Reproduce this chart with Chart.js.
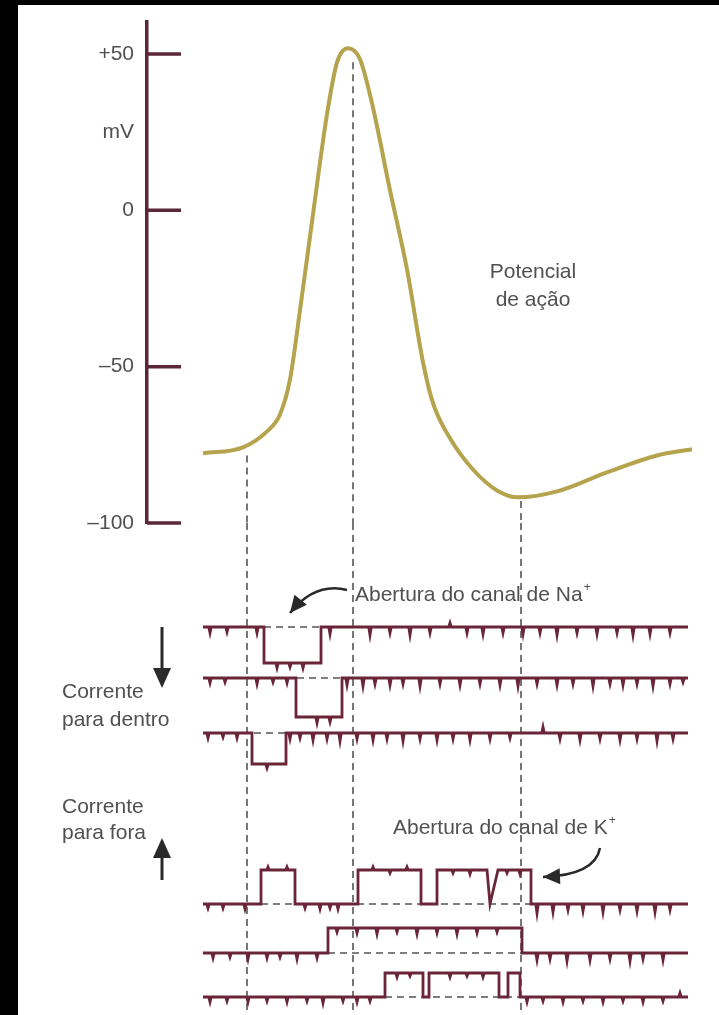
<!DOCTYPE html>
<html>
<head>
<meta charset="utf-8">
<script src="https://cdn.jsdelivr.net/npm/chart.js@4"></script>
<style>
  body { margin: 0; background: #000; }
  #wrap { position: absolute; left: 18px; top: 5px; width: 701px; height: 1010px; background: #fff; }
</style>
</head>
<body>
<div id="wrap"><canvas id="chart" width="701" height="1010"></canvas></div>
<script>
// ===== DATA =====
// tempo em ms (eixo x), potencial em mV
const apTime = [1.12, 1.92, 2.40, 2.66, 2.86, 3.06, 3.32, 3.60, 3.80, 4.02, 4.26, 4.50, 4.86, 5.20, 5.52, 5.72, 6.06, 6.52, 7.00, 7.42, 8.20, 9.20, 10.20, 10.90]
const apVoltage = [-77.7, -75.8, -70.7, -65.3, -54.1, -32.0, -1.3, 30.7, 47.3, 51.8, 48.3, 34.2, 6.4, -18.9, -48.6, -61.7, -72.9, -82.9, -89.6, -91.8, -89.9, -83.8, -78.4, -76.4]

const mvTicks = [50, 25, 0, -50, -100]
const mvLabelAt = 25 // onde fica o "mV"

// linhas tracejadas verticais
const markTime = [2.0, 4.12, 7.48]
const markFrom = [-78.4, 47.3, -93]

// registros de canal unico (corrente em pA)
const traceStart = 1.12
const traceEnd = 10.82

const naAmplitude = [-1.8, -1.95, -1.55]
const naOpenings = [
    [[2.34, 3.48]],
    [[2.98, 3.90]],
    [[2.10, 2.78]]
]
const naDash = [[2.34, 3.48], [2.52, 3.90], [1.90, 2.78]]
const naNoise = [
    [[1.26, -0.3], [1.60, -0.25], [2.20, -0.3], [2.60, -0.25], [2.86, -0.2], [3.12, -0.25], [3.66, -0.35], [4.46, -0.4], [4.86, -0.3], [5.26, -0.4], [5.66, -0.3], [6.06, 0.2], [6.40, -0.3], [6.72, -0.35], [7.12, -0.3], [7.52, -0.35], [7.86, -0.3], [8.20, -0.4], [8.60, -0.3], [9.00, -0.35], [9.40, -0.3], [9.72, -0.4], [10.06, -0.35], [10.46, -0.3]],
    [[1.26, -0.25], [1.56, -0.2], [2.20, -0.3], [2.52, -0.2], [2.80, -0.25], [3.40, -0.3], [3.66, -0.25], [4.00, -0.35], [4.32, -0.4], [4.56, -0.3], [4.86, -0.35], [5.12, -0.3], [5.46, -0.4], [5.86, -0.3], [6.26, -0.35], [6.66, -0.3], [7.06, -0.35], [7.42, -0.4], [7.80, -0.3], [8.20, -0.35], [8.52, -0.3], [8.92, -0.4], [9.26, -0.3], [9.52, -0.35], [9.80, -0.3], [10.12, -0.4], [10.46, -0.3], [10.72, -0.2]],
    [[1.22, -0.25], [1.52, -0.2], [1.80, -0.25], [2.40, -0.2], [2.86, -0.3], [3.06, -0.25], [3.32, -0.35], [3.60, -0.3], [3.86, -0.4], [4.20, -0.3], [4.52, -0.35], [4.80, -0.3], [5.12, -0.4], [5.46, -0.3], [5.80, -0.35], [6.12, -0.3], [6.46, -0.35], [6.86, -0.3], [7.26, -0.25], [7.92, 0.3], [8.26, -0.3], [8.66, -0.35], [9.06, -0.3], [9.46, -0.35], [9.80, -0.3], [10.20, -0.4], [10.52, -0.3]]
]

const kAmplitude = [1.7, 1.25, 1.2]
// [abre, fecha, rampa de abertura, rampa de fechamento]
const kOpenings = [
    [[2.28, 2.96], [4.22, 5.48], [5.80, 6.80, 0, 0.06], [6.86, 7.68, 0.16, 0]],
    [[3.62, 7.50]],
    [[4.76, 5.52], [5.64, 7.04], [7.22, 7.46]]
]
const kDash = [[2.28, 7.68], [3.62, 7.50], [4.76, 7.46]]
const kNoise = [
    [[1.22, -0.2], [1.52, -0.2], [1.96, -0.25], [2.42, 0.15], [2.80, 0.15], [3.16, -0.2], [3.46, -0.25], [3.66, -0.2], [3.82, -0.25], [4.52, 0.15], [4.86, -0.15], [5.20, 0.15], [6.12, -0.15], [6.46, -0.2], [7.20, -0.15], [7.46, -0.2], [7.80, -0.45], [8.12, -0.4], [8.42, -0.3], [8.72, -0.35], [9.12, -0.4], [9.46, -0.3], [9.80, -0.35], [10.16, -0.4], [10.46, -0.3]],
    [[1.32, -0.25], [1.66, -0.2], [2.02, -0.3], [2.40, -0.25], [2.66, -0.2], [3.00, -0.3], [3.40, -0.25], [3.80, -0.2], [4.20, -0.25], [4.60, -0.3], [5.00, -0.2], [5.40, -0.3], [5.80, -0.25], [6.20, -0.3], [6.60, -0.25], [7.00, -0.2], [7.80, -0.35], [8.06, -0.3], [8.40, -0.4], [8.86, -0.35], [9.26, -0.3], [9.66, -0.4], [9.92, -0.3], [10.32, -0.35]],
    [[1.26, -0.25], [1.60, -0.2], [2.02, -0.25], [2.40, -0.2], [2.80, -0.25], [3.20, -0.2], [3.52, -0.3], [3.92, -0.2], [4.20, -0.25], [4.46, -0.2], [5.00, -0.2], [5.26, -0.15], [6.06, -0.2], [6.40, -0.15], [6.72, -0.2], [7.60, -0.25], [7.92, -0.2], [8.32, -0.25], [8.72, -0.2], [9.12, -0.25], [9.52, -0.2], [9.92, -0.25], [10.32, -0.2], [10.66, 0.2]]
]

// ===== LAYOUT / ESTILO =====
const naBase = [-5.2, -7.75, -10.5]
const kBase = [-19.05, -21.5, -23.7]
const axisColor = "#5a2638"
const traceColor = "#6a2638"
const apColor = "#b5a34e"
const textColor = "#505050"
const font = '21px "Liberation Sans", Arial, sans-serif'


// FUNGSI MONTA REGISTRO
function buildTrace(openings, amp, noise, base) {
    const pts = [{ x: traceStart, y: base }]
    openings.forEach(([t0, t1, rin = 0, rout = 0]) => {
        pts.push({ x: t0, y: base }, { x: t0 + rin, y: base + amp }, { x: t1, y: base + amp }, { x: t1 + rout, y: base })
    })
    noise.forEach(([t, dy]) => {
        const nearEdge = openings.some(([t0, t1, rin = 0, rout = 0]) =>
            (t > t0 - 0.07 && t < t0 + rin + 0.07) || (t > t1 - 0.07 && t < t1 + rout + 0.07))
        if (nearEdge) return
        const open = openings.some(([t0, t1, rin = 0]) => t > t0 + rin && t < t1)
        const lvl = base + (open ? amp : 0)
        pts.push({ x: t - 0.025, y: lvl }, { x: t, y: lvl + dy }, { x: t + 0.025, y: lvl })
    })
    pts.push({ x: traceEnd, y: base })
    return pts.sort((a, b) => a.x - b.x)
}

const datasets = []

// potencial de acao
datasets.push({
    data: apTime.map((t, i) => ({ x: t, y: apVoltage[i] })),
    yAxisID: "y",
    borderColor: apColor,
    borderWidth: 4,
    cubicInterpolationMode: "monotone",
    pointRadius: 0,
    order: 1
})

// tracejadas verticais
markTime.forEach((t, i) => {
    datasets.push({
        data: [{ x: t, y: markFrom[i] }, { x: t, y: -100 }],
        yAxisID: "y", borderColor: "#555", borderWidth: 1.6, borderDash: [7, 5], pointRadius: 0, order: 3
    })
    datasets.push({
        data: [{ x: t, y: 0 }, { x: t, y: -24.6 }],
        yAxisID: "yc", borderColor: "#555", borderWidth: 1.6, borderDash: [7, 5], pointRadius: 0, order: 3
    })
})

// tracejadas horizontais + registros
function addTraces(openings, amps, noise, bases, dash) {
    openings.forEach((op, i) => {
        datasets.push({
            data: [{ x: dash[i][0], y: bases[i] }, { x: dash[i][1], y: bases[i] }],
            yAxisID: "yc", borderColor: "#555", borderWidth: 1.6, borderDash: [7, 5], pointRadius: 0, order: 2
        })
        datasets.push({
            data: buildTrace(op, amps[i], noise[i], bases[i]),
            yAxisID: "yc", borderColor: traceColor, borderWidth: 2.8, tension: 0, pointRadius: 0, order: 0
        })
    })
}
addTraces(naOpenings, naAmplitude, naNoise, naBase, naDash)
addTraces(kOpenings, kAmplitude, kNoise, kBase, kDash)


// FUNGSI PANAH
function arrowHead(ctx, fx, fy, tx, ty, len, half) {
    const a = Math.atan2(ty - fy, tx - fx)
    const bx = tx - len * Math.cos(a), by = ty - len * Math.sin(a)
    ctx.beginPath()
    ctx.moveTo(tx, ty)
    ctx.lineTo(bx + half * Math.sin(a), by - half * Math.cos(a))
    ctx.lineTo(bx - half * Math.sin(a), by + half * Math.cos(a))
    ctx.closePath()
    ctx.fill()
}

function labelWithPlus(ctx, text, x, y) {
    ctx.font = font
    ctx.textAlign = "left"
    ctx.fillText(text, x, y)
    const w = ctx.measureText(text).width
    ctx.font = '12px "Liberation Sans", Arial, sans-serif'
    ctx.fillText("+", x + w + 1, y - 7)
}

const overlay = {
    id: "overlay",
    afterDatasetsDraw(chart) {
        const { ctx, chartArea, scales: { x, y, yc } } = chart
        ctx.save()

        // marcas do eixo mV (para dentro do grafico)
        ctx.strokeStyle = axisColor
        ctx.lineWidth = 3.5
        y.ticks.forEach(tk => {
            if (tk.value === mvLabelAt) return
            const py = y.getPixelForValue(tk.value)
            ctx.beginPath()
            ctx.moveTo(chartArea.left, py)
            ctx.lineTo(chartArea.left + 34, py)
            ctx.stroke()
        })

        ctx.fillStyle = textColor
        ctx.font = font
        ctx.textBaseline = "middle"

        // Potencial de acao
        ctx.textAlign = "center"
        ctx.fillText("Potencial", x.getPixelForValue(7.72), y.getPixelForValue(-19.7))
        ctx.fillText("de ação", x.getPixelForValue(7.72), y.getPixelForValue(-28.7))

        // legendas dos canais
        labelWithPlus(ctx, "Abertura do canal de Na", x.getPixelForValue(4.16), yc.getPixelForValue(-3.6))
        labelWithPlus(ctx, "Abertura do canal de K", x.getPixelForValue(4.92), yc.getPixelForValue(-15.25))

        // corrente para dentro / fora
        ctx.font = font
        ctx.textAlign = "left"
        const lx = chartArea.left - 85
        ctx.fillText("Corrente", lx, yc.getPixelForValue(-8.45))
        ctx.fillText("para dentro", lx, yc.getPixelForValue(-9.85))
        ctx.fillText("Corrente", lx, yc.getPixelForValue(-14.2))
        ctx.fillText("para fora", lx, yc.getPixelForValue(-15.5))

        // setas retas
        ctx.strokeStyle = "#2a2a2a"
        ctx.fillStyle = "#2a2a2a"
        ctx.lineWidth = 3
        const ax = x.getPixelForValue(0.3)
        let y0 = yc.getPixelForValue(-5.2), y1 = yc.getPixelForValue(-8.25)
        ctx.beginPath(); ctx.moveTo(ax, y0); ctx.lineTo(ax, y1 - 12); ctx.stroke()
        arrowHead(ctx, ax, y0, ax, y1, 20, 9)
        y0 = yc.getPixelForValue(-17.85); y1 = yc.getPixelForValue(-15.75)
        ctx.beginPath(); ctx.moveTo(ax, y0); ctx.lineTo(ax, y1 + 12); ctx.stroke()
        arrowHead(ctx, ax, y0, ax, y1, 20, 9)

        // setas curvas
        ctx.lineWidth = 2.5
        const curved = [
            [[4.0, -3.35], [3.36, -2.95], [2.86, -4.5]],
            [[9.06, -16.25], [8.96, -17.6], [7.92, -17.7]]
        ]
        curved.forEach(([s, c, e]) => {
            const sx = x.getPixelForValue(s[0]), sy = yc.getPixelForValue(s[1])
            const cx = x.getPixelForValue(c[0]), cy = yc.getPixelForValue(c[1])
            const ex = x.getPixelForValue(e[0]), ey = yc.getPixelForValue(e[1])
            ctx.beginPath()
            ctx.moveTo(sx, sy)
            ctx.quadraticCurveTo(cx, cy, ex, ey)
            ctx.stroke()
            arrowHead(ctx, cx, cy, ex, ey, 17, 8)
        })

        ctx.restore()
    }
}

// largura fixa do eixo e sem folga extra pelos rotulos
function fixBox(s) {
    s.width = 100
    s.paddingTop = 0
    s.paddingBottom = 0
}

new Chart(document.getElementById("chart"), {
    type: "line",
    data: { datasets },
    options: {
        responsive: false,
        animation: false,
        devicePixelRatio: 1,
        layout: { padding: { left: 29, top: 17, right: 0, bottom: 0 } },
        plugins: { legend: { display: false }, tooltip: { enabled: false } },
        scales: {
            x: { type: "linear", min: 0, max: 11.44, display: false },
            y: {
                type: "linear",
                position: "left",
                stack: "v",
                stackWeight: 501,
                weight: 1,
                min: -100,
                max: 60.2,
                afterBuildTicks: s => { s.ticks = mvTicks.map(v => ({ value: v })) },
                afterFit: fixBox,
                grid: { display: false, drawTicks: false },
                border: { display: true, color: axisColor, width: 3.5 },
                ticks: {
                    padding: 13,
                    color: textColor,
                    font: { family: '"Liberation Sans", Arial, sans-serif', size: 21 },
                    callback: v => v === mvLabelAt ? "mV" : v > 0 ? "+" + v : v < 0 ? "\u2013" + Math.abs(v) : "0"
                }
            },
            yc: {
                type: "linear",
                position: "left",
                stack: "v",
                stackWeight: 492,
                weight: 0,
                min: -24.6,
                max: 0,
                afterFit: fixBox,
                grid: { display: false, drawTicks: false },
                border: { display: false },
                ticks: { display: false }
            }
        }
    },
    plugins: [overlay]
})
</script>
</body>
</html>
